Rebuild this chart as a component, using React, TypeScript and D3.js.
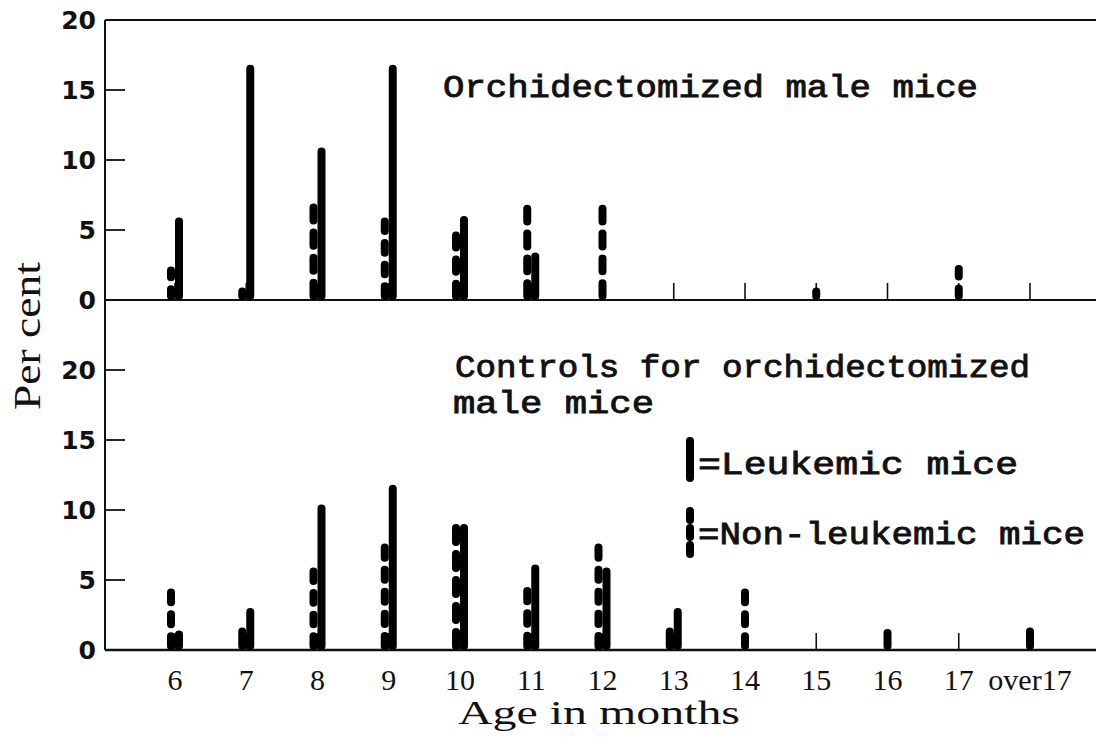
import React from "react";
import * as d3 from "d3";

const categories = ["6", "7", "8", "9", "10", "11", "12", "13", "14", "15", "16", "17", "over17"];
const topLeukemic = [5.9, 16.8, 10.9, 16.8, 6.0, 3.4, 0, 0, 0, 0, 0, 0, 0];
const topNonLeukemic = [2.4, 0.9, 6.9, 5.9, 4.9, 6.8, 6.8, 0, 0, 0.9, 0, 2.5, 0];
const botLeukemic = [1.4, 3.0, 10.4, 11.8, 9.0, 6.1, 5.9, 3.0, 0, 0, 1.5, 0, 0];
const botNonLeukemic = [4.4, 1.6, 5.9, 7.6, 9.0, 4.5, 7.6, 1.6, 4.4, 0, 0, 0, 1.6];
const yTicks = [0, 5, 10, 15, 20];

const W = 1096;
const H = 738;
const AXIS_X = 105;
const BW = 8;
const GAP = 4;
const titleFont = "'Liberation Mono', 'DejaVu Sans Mono', monospace";
const labelFont = "'Liberation Serif', 'DejaVu Serif', serif";
const tickFont = "'DejaVu Sans', sans-serif";

const x = d3.scalePoint<string>().domain(categories).range([175, 1030]);
const yTop = d3.scaleLinear().domain([0, 20]).range([300, 20]);
const yBot = d3.scaleLinear().domain([0, 20]).range([650, 370]);

function DashedBar({ cx, base, top }: { cx: number; base: number; top: number }) {
  const len = base - top;
  const k = Math.max(1, Math.round((len + GAP) / 24));
  const oval = Math.max(BW + 0.5, (len - (k - 1) * GAP) / k);
  const dash = oval - BW;
  return (
    <line
      x1={cx}
      x2={cx}
      y1={base - BW / 2}
      y2={Math.min(top + BW / 2, base - BW / 2 - 0.5)}
      stroke="#000"
      strokeWidth={BW}
      strokeLinecap="round"
      strokeDasharray={`${dash} ${oval + GAP - dash}`}
    />
  );
}

function Panel({ y, leuk, non }: { y: d3.ScaleLinear<number, number>; leuk: number[]; non: number[] }) {
  const base = y(0);
  return (
    <g>
      {categories.map((c) => (
        <line key={"t" + c} x1={x(c)!} x2={x(c)!} y1={base} y2={base - 17} stroke="#111" strokeWidth={1.6} />
      ))}
      {categories.map((c, i) => {
        const l = leuk[i];
        const n = non[i];
        const both = l > 0 && n > 0;
        const cx = x(c)!;
        const nx = both ? cx - BW / 2 : cx;
        const lx = both ? cx + BW / 2 : cx;
        return (
          <g key={"b" + c}>
            {n > 0 && <DashedBar cx={nx} base={base} top={y(n)} />}
            {l > 0 && (
              <rect x={lx - BW / 2} y={y(l)} width={BW} height={base - y(l)} rx={BW / 2} fill="#000" />
            )}
          </g>
        );
      })}
    </g>
  );
}

export default function App() {
  return (
    <svg width={W} height={H} style={{ position: "absolute", left: 0, top: 0, background: "#fff" }}>
      <rect width={W} height={H} fill="#fff" />
      {/* frame lines */}
      <line x1={AXIS_X} x2={AXIS_X} y1={yTop(20)} y2={yBot(0)} stroke="#111" strokeWidth={2} />
      <line x1={AXIS_X} x2={W} y1={yTop(20)} y2={yTop(20)} stroke="#111" strokeWidth={2} />
      <line x1={AXIS_X} x2={W} y1={yTop(0)} y2={yTop(0)} stroke="#111" strokeWidth={2} />
      <line x1={AXIS_X} x2={W} y1={yBot(0)} y2={yBot(0)} stroke="#111" strokeWidth={2.5} />
      {/* y ticks */}
      {yTicks.filter((t) => t > 0 && t < 20).map((t) => (
        <line key={"yt" + t} x1={AXIS_X} x2={AXIS_X + 20} y1={yTop(t)} y2={yTop(t)} stroke="#111" strokeWidth={1.8} />
      ))}
      {yTicks.filter((t) => t > 0).map((t) => (
        <line key={"yb" + t} x1={AXIS_X} x2={AXIS_X + 20} y1={yBot(t)} y2={yBot(t)} stroke="#111" strokeWidth={1.8} />
      ))}
      {yTicks.map((t) => (
        <text key={"lt" + t} x={96} y={yTop(t)} dy="0.36em" textAnchor="end" fontFamily={tickFont} fontWeight="bold" fontSize={25} fill="#111">
          {t}
        </text>
      ))}
      {yTicks.map((t) => (
        <text key={"lb" + t} x={96} y={yBot(t)} dy="0.36em" textAnchor="end" fontFamily={tickFont} fontWeight="bold" fontSize={25} fill="#111">
          {t}
        </text>
      ))}
      <Panel y={yTop} leuk={topLeukemic} non={topNonLeukemic} />
      <Panel y={yBot} leuk={botLeukemic} non={botNonLeukemic} />
      {/* x tick labels */}
      {categories.map((c) => (
        <text key={"xl" + c} x={x(c)!} y={690} textAnchor="middle" fontFamily={labelFont} fontSize={30} fill="#111">
          {c}
        </text>
      ))}
      <text x={458} y={724} textLength={282} lengthAdjust="spacingAndGlyphs" fontFamily={labelFont} fontSize={34} fill="#111">
        Age in months
      </text>
      <text transform="translate(40,336) rotate(-90)" x={-74} textLength={148} lengthAdjust="spacingAndGlyphs" fontFamily={labelFont} fontSize={38} fill="#111">
        Per cent
      </text>
      {/* titles */}
      <g fontFamily={titleFont} fontSize={32} fill="#111" stroke="#111" strokeWidth={0.9}>
        <text x={443} y={97} textLength={535} lengthAdjust="spacingAndGlyphs">Orchidectomized male mice</text>
        <text x={455} y={377} textLength={575} lengthAdjust="spacingAndGlyphs">Controls for orchidectomized</text>
        <text x={453} y={413} textLength={201} lengthAdjust="spacingAndGlyphs">male mice</text>
        <text x={698} y={474} textLength={320} lengthAdjust="spacingAndGlyphs">=Leukemic mice</text>
        <text x={698} y={544} textLength={387} lengthAdjust="spacingAndGlyphs">=Non-leukemic mice</text>
      </g>
      {/* legend marks */}
      <rect x={690 - BW / 2} y={437} width={BW} height={45} rx={BW / 2} fill="#000" />
      <line x1={690} x2={690} y1={511} y2={554} stroke="#000" strokeWidth={BW} strokeLinecap="round" strokeDasharray="9 8" />
    </svg>
  );
}
